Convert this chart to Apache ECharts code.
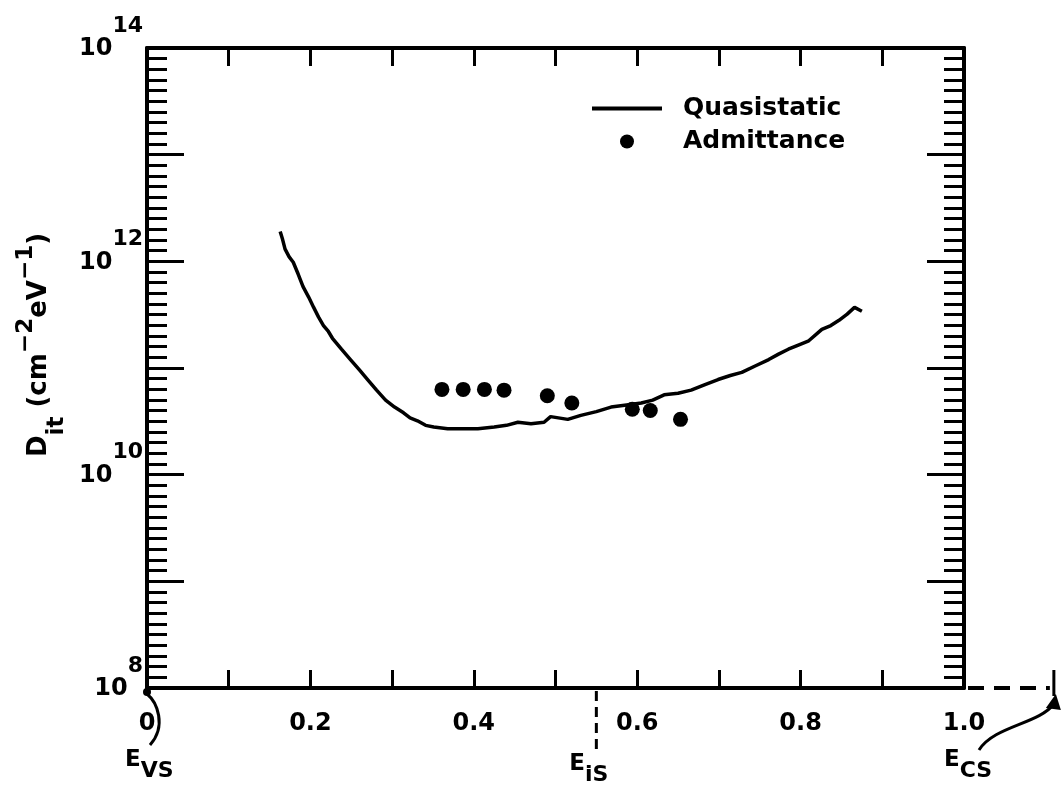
<!DOCTYPE html>
<html><head><meta charset="utf-8">
<script src="https://cdn.jsdelivr.net/npm/echarts@6/dist/echarts.min.js"></script>
<style>html,body{margin:0;padding:0;background:#fff}#c{width:1062px;height:786px}</style>
</head><body><div id="c"></div>
<script>
// ---- data ----
// Quasistatic curve: energy (eV above E_VS) and Dit (cm^-2 eV^-1)
const quasiE = [0.163,0.166,0.169,0.174,0.179,0.185,0.191,0.198,0.204,0.210,0.216,0.222,0.227,0.238,0.249,0.260,0.270,0.281,0.292,0.303,0.314,0.322,0.331,0.341,0.351,0.368,0.384,0.405,0.425,0.440,0.454,0.470,0.486,0.494,0.515,0.531,0.550,0.568,0.587,0.605,0.619,0.633,0.650,0.666,0.683,0.699,0.714,0.728,0.745,0.761,0.773,0.785,0.798,0.810,0.826,0.837,0.847,0.857,0.866,0.875];
const quasiDit = [1.9e12,1.6e12,1.3e12,1.1e12,9.8e11,7.6e11,5.8e11,4.6e11,3.7e11,3.0e11,2.5e11,2.2e11,1.9e11,1.5e11,1.2e11,9.6e10,7.8e10,6.2e10,5.0e10,4.3e10,3.8e10,3.4e10,3.2e10,2.9e10,2.8e10,2.7e10,2.7e10,2.7e10,2.8e10,2.9e10,3.1e10,3.0e10,3.1e10,3.5e10,3.3e10,3.6e10,3.9e10,4.3e10,4.5e10,4.7e10,5.0e10,5.6e10,5.8e10,6.2e10,7.0e10,7.8e10,8.5e10,9.1e10,1.05e11,1.2e11,1.35e11,1.5e11,1.65e11,1.8e11,2.3e11,2.5e11,2.8e11,3.2e11,3.7e11,3.4e11];
// Admittance points
const admE = [0.361,0.387,0.413,0.437,0.490,0.520,0.594,0.616,0.653];
const admDit = [6.3e10,6.3e10,6.3e10,6.2e10,5.5e10,4.7e10,4.1e10,4.0e10,3.3e10];
// tick labels
const yLabelExponents = [8,10,12,14];
const xTickLabels = ['0','0.2','0.4','0.6','0.8','1.0'];
// band-edge markers
const bandNames = ['VS','iS','CS'];
const bandEnergies = [0, 0.55, 1.11];

const FONT = 'DejaVu Sans';
const toLog = v => Math.log10(v);
const quasiData = quasiE.map((e,i)=>[e, toLog(quasiDit[i])]);
const admData = admE.map((e,i)=>[e, toLog(admDit[i])]);

const chart = echarts.init(document.getElementById('c'), null, {renderer:'canvas'});
const axisLine = {show:true, onZero:false, lineStyle:{color:'#000', width:4}};
const yRich = {
  b:{fontSize:24, fontWeight:'bold', fontFamily:FONT, color:'#000', lineHeight:24, padding:[22,0,20,0]},
  s:{fontSize:22, fontWeight:'bold', fontFamily:FONT, color:'#000', lineHeight:22, padding:[0,0,44,0]}
};
const xLabelFmt = v => {
  const k = Math.round(v*10);
  return (k % 2 === 0) ? xTickLabels[k/2] : '';
};

const option = {
  backgroundColor:'#fff',
  animation:false,
  grid:{left:147, right:98, top:48, bottom:98, containLabel:false},
  legend:{
    orient:'vertical', left:592, top:96, padding:0, itemGap:8,
    itemWidth:70, itemHeight:14, symbolKeepAspect:true,
    textStyle:{fontSize:25, fontWeight:'bold', fontFamily:FONT, color:'#000', padding:[0,0,0,16]},
    data:[{name:'Quasistatic', icon:'path://M0,0H70V4H0Z'},{name:'Admittance', icon:'circle'}]
  },
  xAxis:[
    {type:'value', min:0, max:1, interval:0.1, position:'bottom',
     axisLine, axisTick:{show:true, inside:true, length:18, lineStyle:{color:'#000', width:3}},
     axisLabel:{formatter:xLabelFmt, fontSize:24, fontWeight:'bold', fontFamily:FONT, color:'#000', margin:24},
     splitLine:{show:false}},
    {type:'value', min:0, max:1, interval:0.1, position:'top',
     axisLine, axisTick:{show:true, inside:true, length:18, lineStyle:{color:'#000', width:3}},
     axisLabel:{show:false}, splitLine:{show:false}}
  ],
  yAxis:[
    {type:'value', min:8, max:14, interval:1, position:'left',
     axisLine, axisTick:{show:true, inside:true, length:37, lineStyle:{color:'#000', width:3}},
     minorTick:{show:true, splitNumber:10, length:20, lineStyle:{color:'#000', width:3}},
     axisLabel:{formatter:v => yLabelExponents.includes(v) ? '{b|10}{s|'+v+'}' : '', rich:yRich, margin:4},
     splitLine:{show:false}, minorSplitLine:{show:false},
     name:'{b|D}{sub|it}{b| (cm}{sup|−2}{b|eV}{sup|−1}{b|)}',
     nameLocation:'middle', nameRotate:90, nameGap:88,
     nameTextStyle:{padding:[0,0,0,46], rich:{
       b:{fontSize:26, fontWeight:'bold', fontFamily:FONT, color:'#000', lineHeight:26},
       sub:{fontSize:23, fontWeight:'bold', fontFamily:FONT, color:'#000', lineHeight:23, padding:[34,0,0,0]},
       sup:{fontSize:23, fontWeight:'bold', fontFamily:FONT, color:'#000', lineHeight:23, padding:[0,0,28,0]}
     }}},
    {type:'value', min:8, max:14, interval:1, position:'right',
     axisLine, axisTick:{show:true, inside:true, length:37, lineStyle:{color:'#000', width:3}},
     minorTick:{show:true, splitNumber:10, length:20, lineStyle:{color:'#000', width:3}},
     axisLabel:{show:false}, splitLine:{show:false}, minorSplitLine:{show:false}}
  ],
  series:[
    {name:'Quasistatic', type:'line', xAxisIndex:0, yAxisIndex:0, data:quasiData,
     symbol:'none', smooth:false, lineStyle:{color:'#000', width:3.5}, itemStyle:{color:'#000'}, z:3},
    {name:'Admittance', type:'scatter', xAxisIndex:0, yAxisIndex:0, data:admData,
     symbol:'circle', symbolSize:15, itemStyle:{color:'#000', opacity:1}, z:4}
  ]
};
chart.setOption(option);

// ---- annotations below the energy axis ----
const yBase = chart.convertToPixel({yAxisIndex:0}, 8);
const px = bandEnergies.map(e => chart.convertToPixel({xAxisIndex:0}, e));
const xOne = chart.convertToPixel({xAxisIndex:0}, 1.0);
const eRich = {
  e:{fontSize:23, fontWeight:'bold', fontFamily:FONT, color:'#000', lineHeight:24, padding:[0,0,11,0]},
  s:{fontSize:22, fontWeight:'bold', fontFamily:FONT, color:'#000', lineHeight:24, padding:[11,0,0,0]}
};
const ink = {stroke:'#000', lineWidth:3, fill:null};
const graphics = [
  // E_VS
  {type:'text', x:px[0]-22, y:yBase+78, style:{text:'{e|E}{s|'+bandNames[0]+'}', rich:eRich, align:'left', verticalAlign:'middle'}},
  {type:'bezierCurve', shape:{x1:px[0]+3, y1:yBase+57, x2:px[0], y2:yBase+6, cpx1:px[0]+20, cpy1:yBase+38, cpx2:px[0]+10, cpy2:yBase+14}, style:ink},
  {type:'circle', shape:{cx:px[0], cy:yBase+4, r:4}, style:{fill:'#000'}},
  // E_iS
  {type:'line', shape:{x1:px[1], y1:yBase+3, x2:px[1], y2:yBase+62}, style:{stroke:'#000', lineWidth:3, lineDash:[10,6]}},
  {type:'text', x:px[1]-27, y:yBase+82, style:{text:'{e|E}{s|'+bandNames[1]+'}', rich:eRich, align:'left', verticalAlign:'middle'}},
  // E_CS
  {type:'line', shape:{x1:xOne+4, y1:yBase, x2:px[2]-4, y2:yBase}, style:{stroke:'#000', lineWidth:4, lineDash:[16,10]}},
  {type:'line', shape:{x1:px[2], y1:yBase-18, x2:px[2], y2:yBase+8}, style:{stroke:'#000', lineWidth:3}},
  {type:'bezierCurve', shape:{x1:xOne+15, y1:yBase+62, x2:px[2], y2:yBase+16, cpx1:xOne+30, cpy1:yBase+38, cpx2:px[2]-15, cpy2:yBase+36}, style:ink},
  {type:'polygon', shape:{points:[[px[2]+2, yBase+6],[px[2]-8, yBase+20],[px[2]+7, yBase+22]]}, style:{fill:'#000'}},
  {type:'text', x:xOne-20, y:yBase+78, style:{text:'{e|E}{s|'+bandNames[2]+'}', rich:eRich, align:'left', verticalAlign:'middle'}}
];
chart.setOption({graphic:graphics});
</script>
</body></html>
